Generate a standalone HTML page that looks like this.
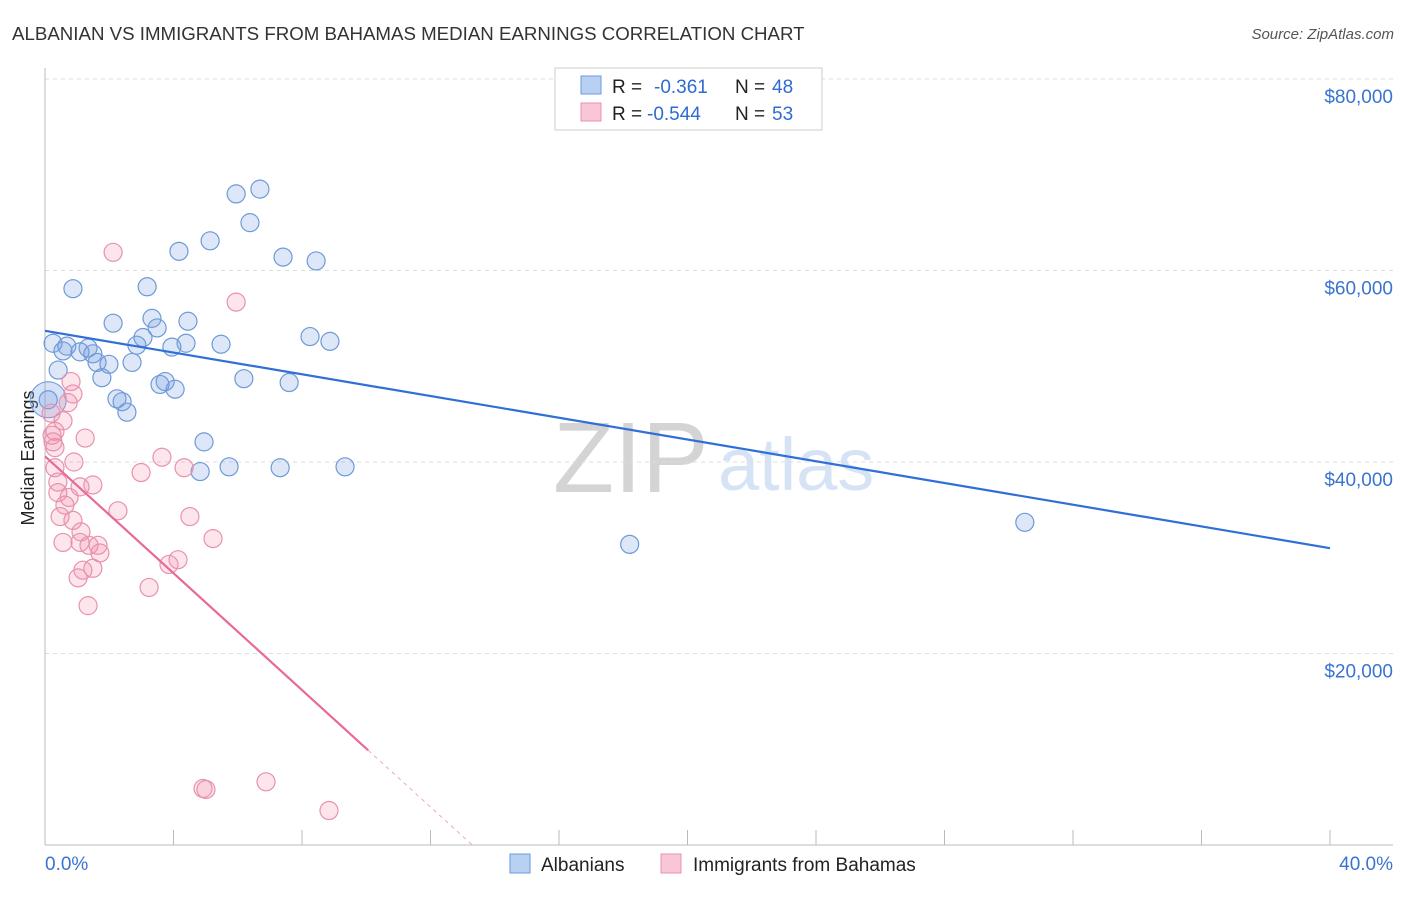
<!DOCTYPE html>
<html><head><meta charset="utf-8"><style>
body{margin:0;background:#fff;font-family:"Liberation Sans",sans-serif}
svg text{font-family:"Liberation Sans",sans-serif}
</style></head><body>
<svg id="chart" width="1406" height="892">
<text x="12" y="40" font-size="18.7" fill="#333">ALBANIAN VS IMMIGRANTS FROM BAHAMAS MEDIAN EARNINGS CORRELATION CHART</text>
<text x="1394" y="39" font-size="15" fill="#555" font-style="italic" text-anchor="end">Source: ZipAtlas.com</text>
<text x="34" y="458" font-size="18" fill="#222" text-anchor="middle" transform="rotate(-90 34 458)">Median Earnings</text>
<text x="553" y="492" font-size="100" fill="#d4d4d4" font-family="Liberation Serif">ZIP</text>
<text x="718" y="490" font-size="74" fill="#d5e3f5">atlas</text>
<g id="grid"></g><g id="pts"></g><g id="lines"></g>
<g>
<rect x="555" y="68" width="267" height="62" fill="#fff" stroke="#ccc"/>
<rect x="581" y="76" width="20" height="18" fill="#b8d1f3" stroke="#6d9ad8"/>
<rect x="581" y="103" width="20" height="18" fill="#f8c6d6" stroke="#e991ae"/>
<text x="612" y="93" font-size="19" fill="#222">R =</text>
<text x="654" y="93" font-size="19" fill="#2f6bd0">-0.361</text>
<text x="735" y="93" font-size="19" fill="#222">N =</text>
<text x="772" y="93" font-size="19" fill="#2f6bd0">48</text>
<text x="612" y="120" font-size="19" fill="#222">R =</text>
<text x="647" y="120" font-size="19" fill="#2f6bd0">-0.544</text>
<text x="735" y="120" font-size="19" fill="#222">N =</text>
<text x="772" y="120" font-size="19" fill="#2f6bd0">53</text>
</g>
<g>
<rect x="510" y="854" width="20" height="19" fill="#b8d1f3" stroke="#6d9ad8"/>
<text x="541" y="871" font-size="19" fill="#222">Albanians</text>
<rect x="661" y="854" width="20" height="19" fill="#f8c6d6" stroke="#e991ae"/>
<text x="693" y="871" font-size="19" fill="#222">Immigrants from Bahamas</text>
</g>
</svg>
<script>
const yTicks=[20000,40000,60000,80000];
const yTickLabels=["$20,000","$40,000","$60,000","$80,000"];
const xTicks=[0,4,8,12,16,20,24,28,32,36,40];
const albX=[6.69,5.95,6.38,5.14,4.17,7.41,8.44,0.87,3.18,2.12,3.33,4.45,3.49,3.05,8.25,8.87,0.25,0.68,2.86,4.39,3.95,5.48,1.34,0.56,1.09,1.49,1.62,2.71,1.99,0.41,1.77,6.19,3.58,3.74,7.6,4.05,2.24,2.4,2.55,0.1,4.95,4.83,5.73,7.32,9.34,18.2,30.5];
const albY=[68.5,68.0,65.0,63.1,62.0,61.4,61.0,58.1,58.3,54.5,55.0,54.7,54.0,53.0,53.1,52.6,52.4,52.1,52.2,52.4,52.0,52.3,51.9,51.6,51.5,51.3,50.4,50.4,50.2,49.6,48.8,48.7,48.1,48.4,48.3,47.6,46.6,46.3,45.2,46.5,42.1,39.0,39.5,39.4,39.5,31.4,33.7];
const bahX=[2.12,5.95,0.81,0.87,0.72,0.19,0.56,0.31,0.22,0.25,1.25,0.31,0.9,0.31,0.4,1.49,1.09,0.4,0.75,0.62,0.47,0.87,1.12,0.56,1.09,1.37,1.65,1.71,1.49,1.18,1.03,1.34,2.27,2.99,3.64,4.33,4.51,5.23,4.14,3.86,3.24,4.92,5.01,6.88,8.84];
const bahY=[61.9,56.7,48.4,47.1,46.2,45.1,44.3,43.2,42.8,42.1,42.5,41.5,40.0,39.4,37.9,37.6,37.4,36.8,36.3,35.5,34.3,33.9,32.7,31.6,31.6,31.3,31.3,30.5,28.9,28.7,27.9,25.0,34.9,38.9,40.5,39.4,34.3,32.0,29.8,29.3,26.9,5.9,5.8,6.6,3.6];
const albTrend=[53.7,31.0];
const bahTrend=[40.6,0];
const bahSolidEnd=10.06;
const bahZeroX=13.3;
const X=v=>45+v/40*1285, Y=k=>845-k*1000/20000*191.5;
const NS="http://www.w3.org/2000/svg";
function mk(t,a,p){const e=document.createElementNS(NS,t);for(const k in a)e.setAttribute(k,a[k]);p.appendChild(e);return e;}
const grid=document.getElementById('grid');
yTicks.forEach((v,i)=>{
 const l=mk('line',{x1:45,x2:1393,y1:Y(v/1000),y2:Y(v/1000),stroke:'#ddd','stroke-dasharray':'4,4'},grid);
 
 
 const t=mk('text',{x:1393,y:Y(v/1000)+24,'font-size':19,fill:'#3a73d0','text-anchor':'end'},grid);
 t.textContent=yTickLabels[i];
 
 
});
mk('line',{x1:45,x2:45,y1:68,y2:845,stroke:'#bbb'},grid);
mk('line',{x1:45,x2:1393,y1:845,y2:845,stroke:'#bbb'},grid);
xTicks.forEach(v=>{if(v>0){const l=mk('line',{x1:X(v),x2:X(v),y1:830,y2:845,stroke:'#bbb'},grid);
 
 }});
const t0=mk('text',{x:45,y:870,'font-size':19,fill:'#3a73d0'},grid);t0.textContent='0.0%';


const t1=mk('text',{x:1393,y:870,'font-size':19,fill:'#3a73d0','text-anchor':'end'},grid);t1.textContent='40.0%';


const pts=document.getElementById('pts');
const big1=mk('circle',{cx:X(0.1),cy:Y(46.5),r:18,fill:'rgba(120,160,225,0.3)',stroke:'#6d9ad8'},pts);


albX.forEach((x,i)=>{const c=mk('circle',{cx:X(x),cy:Y(albY[i]),r:9,fill:'rgba(120,160,225,0.25)',stroke:'#6d9ad8','stroke-width':1.2},pts);
 
 });
bahX.forEach((x,i)=>{const c=mk('circle',{cx:X(x),cy:Y(bahY[i]),r:9,fill:'rgba(240,140,170,0.22)',stroke:'#e991ae','stroke-width':1.2},pts);
 
 });
const lines=document.getElementById('lines');
const la=mk('line',{x1:X(0),y1:Y(albTrend[0]),x2:X(40),y2:Y(albTrend[1]),stroke:'#2f6fd6','stroke-width':2.2},lines);


const yAt=x=>bahTrend[0]+(bahTrend[1]-bahTrend[0])/bahZeroX*x;
const lb=mk('line',{x1:X(0),y1:Y(bahTrend[0]),x2:X(bahSolidEnd),y2:Y(yAt(bahSolidEnd)),stroke:'#e8699a','stroke-width':2.2},lines);


const ld=mk('line',{x1:X(bahSolidEnd),y1:Y(yAt(bahSolidEnd)),x2:X(bahZeroX),y2:Y(bahTrend[1]),stroke:'#f0a8c0','stroke-width':1,'stroke-dasharray':'4,4'},lines);


</script>
</body></html>
